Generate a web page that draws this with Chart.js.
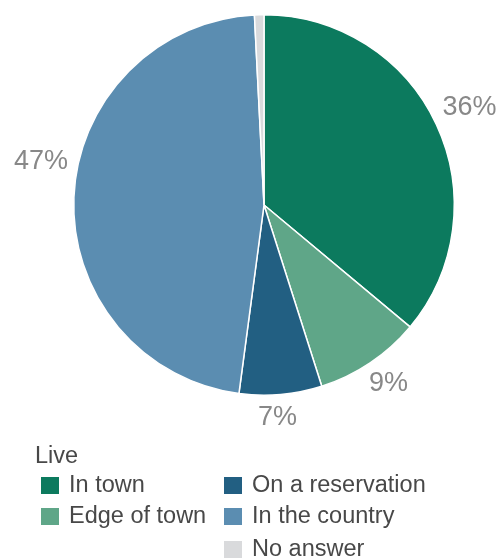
<!DOCTYPE html>
<html>
<head>
<meta charset="utf-8">
<script src="https://cdn.jsdelivr.net/npm/chart.js@4"></script>
<style>
    body { margin: 0; background: #fff; font-family: "Liberation Sans", Arial, sans-serif; }
    #wrap { position: relative; width: 499px; height: 559px; }
    #chart-box { position: absolute; left: 0; top: 0; width: 499px; height: 430px; }
    #legend { position: absolute; left: 0; top: 0; width: 499px; height: 559px; color: #484848; font-size: 23.5px; }
    #legend .title { position: absolute; left: 35px; top: 442px; }
    #legend .item { position: absolute; white-space: nowrap; }
    #legend .swatch { position: absolute; left: 0; top: 1px; width: 18px; height: 17px; }
    #legend .label { position: absolute; left: 28px; top: -5px; }
</style>
</head>
<body>
<div id="wrap">
    <div id="chart-box"><canvas id="pie"></canvas></div>
    <div id="legend"><div class="title">Live</div></div>
</div>
<script>
const categories = ['In town', 'Edge of town', 'On a reservation', 'In the country', 'No answer'];
const shares = [36, 9, 7, 47, 0.8];
const sliceLabels = ['36%', '9%', '7%', '47%', ''];
const colors = ['#0c7a5e', '#5fa688', '#225f82', '#5b8db1', '#d9dadc'];

// small nudges for the outside labels, in pixels
const labelNudge = [[5, -4], [1, -5], [-6, -8], [-2, -34], [0, 0]];

const outsideLabels = {
    id: 'outsideLabels',
    afterDatasetsDraw(chart) {
        const ctx = chart.ctx;
        const meta = chart.getDatasetMeta(0);
        ctx.save();
        ctx.font = '27px "Liberation Sans", Arial, sans-serif';
        ctx.fillStyle = '#888888';
        ctx.textAlign = 'center';
        ctx.textBaseline = 'middle';
        meta.data.forEach((arc, i) => {
            if (!sliceLabels[i]) return;
            const mid = (arc.startAngle + arc.endAngle) / 2;
            const r = arc.outerRadius + 31;
            const x = arc.x + Math.cos(mid) * r + labelNudge[i][0];
            const y = arc.y + Math.sin(mid) * r + labelNudge[i][1];
            ctx.fillText(sliceLabels[i], x, y);
        });
        ctx.restore();
    }
};

new Chart(document.getElementById('pie'), {
    type: 'pie',
    data: {
        labels: categories,
        datasets: [{
            data: shares,
            backgroundColor: colors,
            borderColor: '#ffffff',
            borderWidth: 1.5
        }]
    },
    options: {
        responsive: true,
        maintainAspectRatio: false,
        animation: false,
        layout: { padding: { left: 73, right: 44, top: 14, bottom: 34 } },
        plugins: {
            legend: { display: false },
            tooltip: { enabled: false }
        }
    },
    plugins: [outsideLabels]
});

// legend in two columns, filled down the first column then the second
const legend = document.getElementById('legend');
const legendSpots = [[41, 476], [41, 507], [224, 476], [224, 507], [224, 540]];
categories.forEach((name, i) => {
    const item = document.createElement('div');
    item.className = 'item';
    item.style.left = legendSpots[i][0] + 'px';
    item.style.top = legendSpots[i][1] + 'px';
    item.innerHTML = `<div class="swatch" style="background:${colors[i]}"></div><div class="label">${name}</div>`;
    legend.appendChild(item);
});
</script>
</body>
</html>
